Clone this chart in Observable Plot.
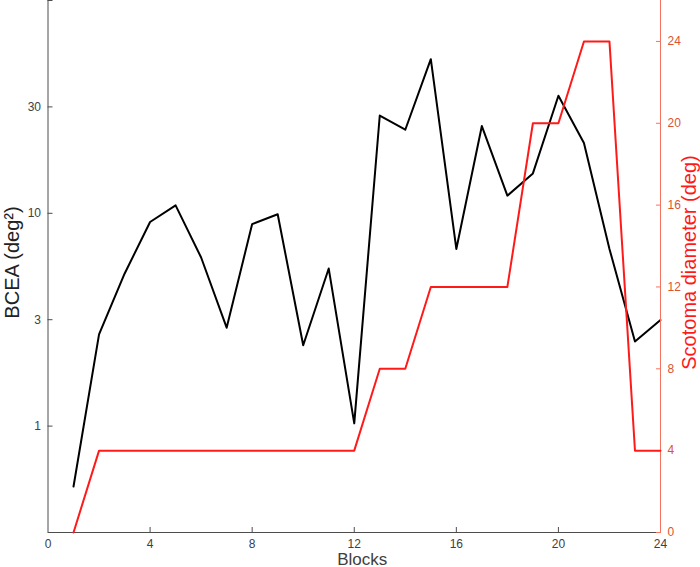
<!DOCTYPE html>
<html><head><meta charset="utf-8">
<script src="https://cdn.jsdelivr.net/npm/d3@7"></script>
<script src="https://cdn.jsdelivr.net/npm/@observablehq/plot@0.6"></script>
<style>
html,body{margin:0;padding:0;background:#fff;}
#chart{position:relative;width:700px;height:567px;overflow:hidden;}
#chart svg{position:absolute;left:0;top:0;}
</style></head><body><div id="chart"></div>
<script>
const blocks = [1,2,3,4,5,6,7,8,9,10,11,12,13,14,15,16,17,18,19,20,21,22,23,24];
const bcea = [0.52,2.7,5.2,9.1,10.9,6.2,2.9,8.9,9.9,2.4,5.5,1.03,28.8,24.7,53,6.8,25.7,12.1,15.4,35.7,21.4,6.8,2.5,3.15];
const scotoma = [0,4,4,4,4,4,4,4,4,4,4,4,8,8,12,12,12,12,20,20,24,24,4,4];
const xTicks = [0,4,8,12,16,20,24];
const leftTicks = [1, 3.1623, 10, 31.623, 100];
const leftTickLabels = ["1", "3", "10", "30", ""];
const rightTicks = [0,4,8,12,16,20,24];

const W = 700, H = 567;
const M = {marginLeft: 47.5, marginRight: 40, marginTop: 0, marginBottom: 35};
const font = "'Liberation Sans', Arial, Helvetica, sans-serif";
const axisGray = "#4d4d4d";
const textGray = "#404040";
const rAxis = "#f4735f";
const rText = "#d9542f";
const yMin = Math.pow(10, -0.5);
const leftLabelOf = new Map(leftTicks.map((t, i) => [t, leftTickLabels[i]]));

const p1 = Plot.plot({
  width: W, height: H, ...M,
  style: {fontFamily: font, fontSize: "12px", color: textGray, background: "transparent", overflow: "visible"},
  x: {domain: [0, 24]},
  y: {type: "log", domain: [yMin, 100]},
  marks: [
    Plot.ruleX([0], {stroke: axisGray}),
    Plot.ruleY([yMin], {stroke: axisGray}),
    Plot.axisX(xTicks, {tickSize: 0, tickPadding: 7, label: null, fill: textGray}),
    Plot.axisX(xTicks.slice(1, -1), {tickSize: -5, fill: "none", label: null, stroke: axisGray}),
    Plot.axisY(leftTicks.slice(0, -1), {tickSize: 0, tickPadding: 7, label: null, tickFormat: d => leftLabelOf.get(d), fill: textGray}),
    Plot.axisY(leftTicks, {tickSize: -5, fill: "none", label: null, stroke: axisGray}),
    Plot.lineY(bcea, {x: blocks, stroke: "#000", strokeWidth: 2}),
    Plot.text(["Blocks"], {frameAnchor: "bottom", dy: 32, dx: 8, fontSize: 17, fill: textGray, textAnchor: "middle", lineAnchor: "bottom"}),
    Plot.text(["BCEA (deg²)"], {frameAnchor: "left", rotate: -90, dx: -35, dy: -4, fontSize: 20, fill: "#222", textAnchor: "middle", lineAnchor: "middle"})
  ]
});

const p2 = Plot.plot({
  width: W, height: H, ...M,
  style: {fontFamily: font, fontSize: "12px", background: "transparent", overflow: "visible"},
  x: {domain: [0, 24], axis: null},
  y: {domain: [0, 26], axis: null},
  marks: [
    Plot.ruleX([24], {stroke: rAxis}),
    Plot.axisY(rightTicks, {anchor: "right", tickSize: 0, tickPadding: 7, label: null, fill: rText}),
    Plot.axisY(rightTicks, {anchor: "right", tickSize: -5, fill: "none", label: null, stroke: rAxis}),
    Plot.lineY(scotoma, {x: blocks, stroke: "#ff1a1a", strokeWidth: 2}),
    Plot.text(["Scotoma diameter (deg)"], {frameAnchor: "right", rotate: -90, dx: 29, dy: -4, fontSize: 20, fill: "#ff1a1a", textAnchor: "middle", lineAnchor: "middle"})
  ]
});

const c = document.getElementById("chart");
c.appendChild(p1);
c.appendChild(p2);
</script></body></html>
